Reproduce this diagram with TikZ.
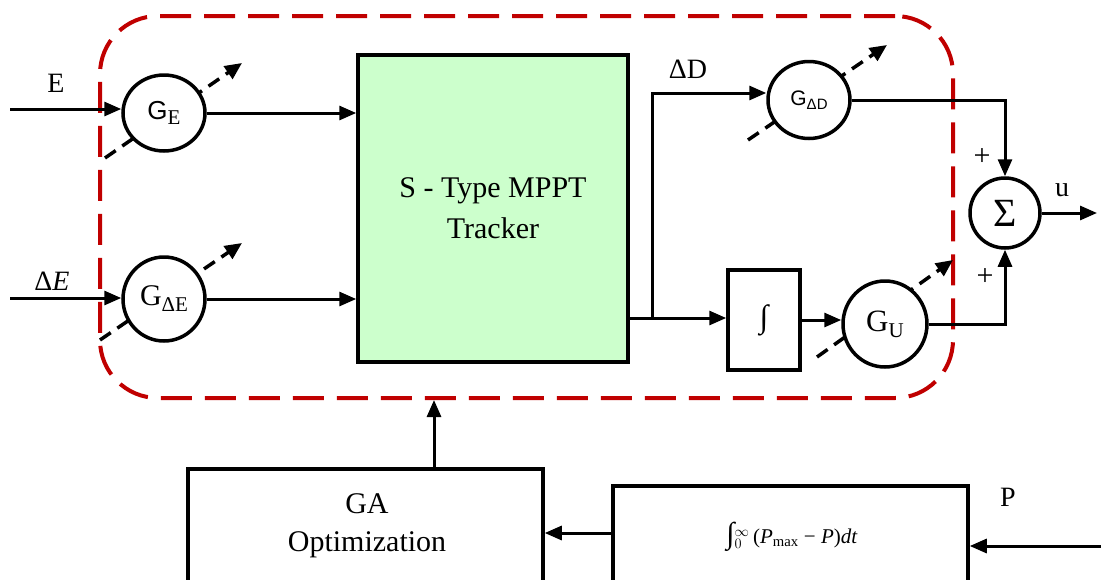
\documentclass[tikz,border=0pt]{standalone}
\usepackage{fontspec}
\setmainfont{Liberation Serif}
\setsansfont{Liberation Sans}
\usetikzlibrary{arrows.meta,shapes.geometric,calc}
\definecolor{framered}{RGB}{192,0,0}
\definecolor{mpptgreen}{RGB}{204,255,204}
\begin{document}
\begin{tikzpicture}[x=1pt,y=-1pt,
  line width=3pt,
  arr/.style={-{Triangle[length=17pt,width=14pt]}},
  gain/.style={ellipse, draw, line width=3.5pt, fill=white, inner sep=0pt},
  tune/.style={draw, dash pattern=on 13pt off 8pt, line width=3.5pt, -{Triangle[length=17pt,width=15pt]}},
  lbl/.style={font=\fontsize{28}{32}\selectfont, inner sep=0pt},
  plus/.style={font=\fontsize{30}{32}\selectfont, inner sep=0pt},
  blk/.style={draw, line width=3.5pt, inner sep=0pt},
]
\useasboundingbox (0,0) rectangle (1101,579);
\clip (0,0) rectangle (1101,579);

% dashed controller frame
\node[draw=framered, dash pattern=on 31pt off 13pt, line width=4pt, rounded corners=58pt,
      minimum width=853pt, minimum height=382pt, inner sep=0pt] (ctrl) at (526.5,207) {};

% centres of the tunable gains
\coordinate (cGE) at (164,113);
\coordinate (cGdE) at (164,299);
\coordinate (cGdD) at (809,100);
\coordinate (cGU) at (885,324);

% tuning arrows (behind the gains)
\draw[tune] ($(cGE)+(-59,45)$) -- ($(cGE)+(78,-50)$);
\draw[tune] ($(cGdE)+(-64,41)$) -- ($(cGdE)+(78,-56)$);
\draw[tune] ($(cGdD)+(-61,40)$) -- ($(cGdD)+(78,-55)$);
\draw[tune] ($(cGU)+(-68,33)$) -- ($(cGU)+(68,-64)$);

% blocks
\node[blk, fill=mpptgreen, minimum width=270pt, minimum height=307pt, align=center,
      font=\fontsize{30}{41}\selectfont] (mppt) at (493,208.5) {S - Type MPPT\\Tracker};

\node[gain, minimum width=82pt, minimum height=76pt] (GE) at (cGE)
  {{\fontsize{26}{26}\sffamily G}\raisebox{-5pt}{\fontsize{21}{21}\selectfont E}};
\node[gain, minimum width=82pt, minimum height=84pt] (GdE) at (cGdE)
  {{\fontsize{30}{30}\selectfont G}\raisebox{-6pt}{\fontsize{21}{21}\selectfont ΔE}};
\node[gain, minimum width=82pt, minimum height=77pt] (GdD) at (cGdD)
  {\sffamily{\fontsize{21}{21}\selectfont G}\raisebox{-4pt}{\fontsize{15}{15}\selectfont ΔD}};
\node[gain, minimum width=84pt, minimum height=86pt] (GU) at (cGU)
  {{\fontsize{31}{31}\selectfont G}\raisebox{-6pt}{\fontsize{21}{21}\selectfont U}};

\node[blk, minimum width=72pt, minimum height=100pt, font=\fontsize{32}{32}\selectfont] (int) at (764,320) {∫};

\node[circle, draw, line width=3.5pt, minimum size=70pt, inner sep=0pt,
      font=\fontsize{40}{40}\selectfont] (sum) at (1005,213) {Σ};

\node[blk, minimum width=355pt, minimum height=151pt] (GA) at (365.5,544.5) {};
\node[align=center, font=\fontsize{30}{38}\selectfont, inner sep=0pt] (GAt) at (367,526) {GA\\Optimization};

\node[blk, minimum width=355pt, minimum height=134pt] (cost) at (790.5,553) {};
\node[font=\fontsize{21}{24}\selectfont, inner sep=0pt] (costt) at (792,537)
  {{\fontsize{30}{30}\selectfont ∫}$_{0}^{\infty}$\,(\textit{P}\textsubscript{max} − \textit{P})\textit{dt}};

% labels
\node[lbl] (lE) at (56,83) {E};
\node[lbl] (ldE) at (52,281) {Δ\textit{E}};
\node[lbl] (ldD) at (688,69) {ΔD};
\node[lbl] (lu) at (1062,190) {u};
\node[lbl] (lP) at (1008,497) {P};
\node[plus] (p1) at (982,157) {+};
\node[plus] (p2) at (985,277) {+};

% connectors
\coordinate (inE) at (10,109);
\coordinate (indE) at (10,298);
\coordinate (J) at (652,318);
\coordinate (Jt) at (652,93);
\coordinate (uout) at (1097,216);
\coordinate (gaup) at (434,469);
\coordinate (pin) at (1101,546);
\coordinate (cl) at (613,533);

\draw[arr] (inE) -- (inE -| GE.west);
\draw[arr] (GE.east) -- (GE.east -| mppt.west);
\draw[arr] (indE) -- (indE -| GdE.west);
\draw[arr] (GdE.east) -- (GdE.east -| mppt.west);
\draw (mppt.east |- J) -- (J);
\draw[arr] (J) -- (J -| int.west);
\draw[arr] (J) -- (Jt) -- (Jt -| GdD.west);
\draw[arr] (GdD.east) -| (sum.north);
\draw[arr] (int.east) -- (int.east -| GU.west);
\draw[arr] (GU.east) -| (sum.south);
\draw[arr] (sum.east) -- (sum.east -| uout);
\draw[arr] (gaup) -- (gaup |- ctrl.south);
\draw[arr] (pin) -- (pin -| cost.east);
\draw[arr] (cl) -- (cl -| GA.east);
\end{tikzpicture}
\end{document}
